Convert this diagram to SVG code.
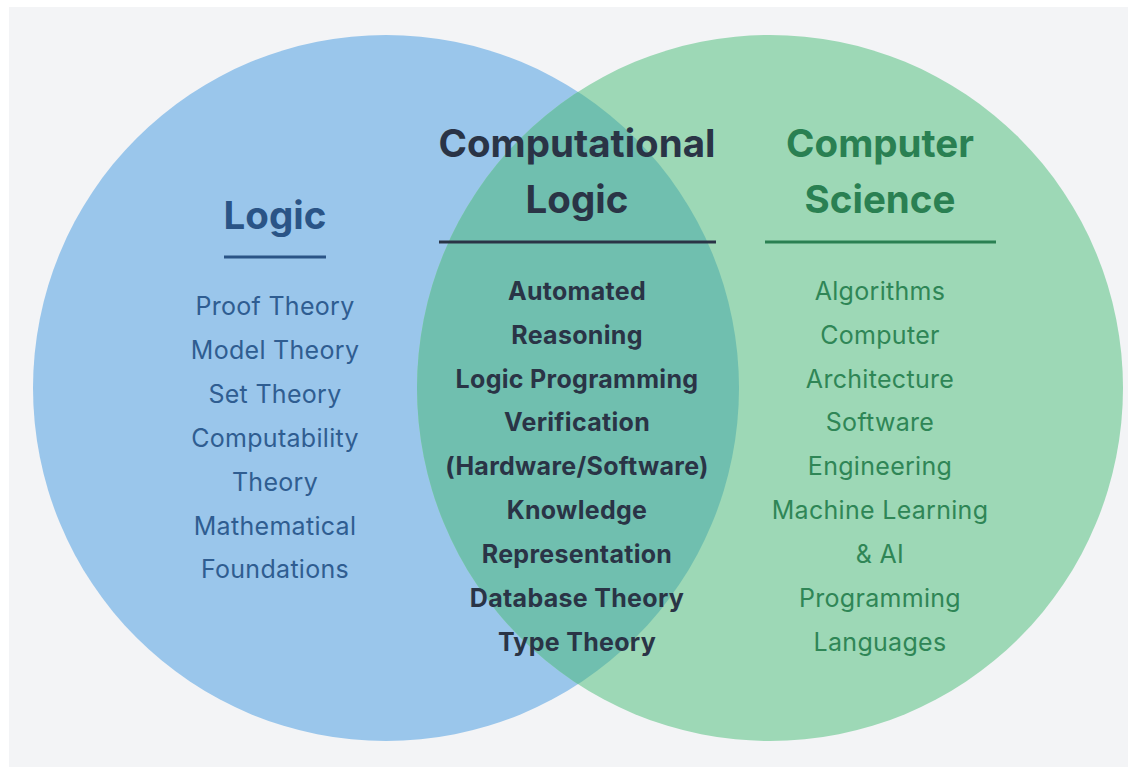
<svg xmlns="http://www.w3.org/2000/svg" width="1128" height="767" viewBox="0 0 1128 767">
<defs>
<clipPath id="clipRight"><circle cx="770" cy="388" r="353"/></clipPath>
<style>
text{font-family:Inter,"Noto Sans","Liberation Sans",sans-serif;text-anchor:middle}
.title{font-size:38.5px;font-weight:700}
.item{font-size:25px;font-weight:400;letter-spacing:0.3px}
.bold{font-weight:700}
.blue{fill:#2a5486}
.blueItem{fill:#2f5d91}
.dark{fill:#2a3446}
.green{fill:#2a8052}
.greenItem{fill:#2f8656}
</style>
</defs>
<rect x="0" y="0" width="1128" height="767" fill="#ffffff"/>
<rect x="9" y="7" width="1119" height="760" fill="#f3f4f6"/>
<g id="logic-circle">
<circle cx="386" cy="388" r="353" fill="#9ac6eb"/>
</g>
<g id="cs-circle">
<circle cx="770" cy="388" r="353" fill="#9dd8b6"/>
</g>
<g id="overlap">
<circle cx="386" cy="388" r="353" fill="#70bfaf" clip-path="url(#clipRight)"/>
</g>
<g id="logic">
<text class="title blue" x="275" y="229">Logic</text>
<line x1="224" y1="257" x2="326" y2="257" stroke="#2a5486" stroke-width="3"/>
<text class="item blueItem" x="275" y="315">Proof Theory</text>
<text class="item blueItem" x="275" y="359">Model Theory</text>
<text class="item blueItem" x="275" y="403">Set Theory</text>
<text class="item blueItem" x="275" y="447">Computability</text>
<text class="item blueItem" x="275" y="491">Theory</text>
<text class="item blueItem" x="275" y="535">Mathematical</text>
<text class="item blueItem" x="275" y="578">Foundations</text>
</g>
<g id="computational-logic">
<text class="title dark" x="577" y="157">Computational</text>
<text class="title dark" x="577" y="213">Logic</text>
<line x1="439" y1="242" x2="716" y2="242" stroke="#2a3446" stroke-width="3"/>
<text class="item bold dark" x="577" y="300">Automated</text>
<text class="item bold dark" x="577" y="344">Reasoning</text>
<text class="item bold dark" x="577" y="388">Logic Programming</text>
<text class="item bold dark" x="577" y="431">Verification</text>
<text class="item bold dark" x="577" y="475">(Hardware/Software)</text>
<text class="item bold dark" x="577" y="519">Knowledge</text>
<text class="item bold dark" x="577" y="563">Representation</text>
<text class="item bold dark" x="577" y="607">Database Theory</text>
<text class="item bold dark" x="577" y="651">Type Theory</text>
</g>
<g id="computer-science">
<text class="title green" x="880" y="157">Computer</text>
<text class="title green" x="880" y="213">Science</text>
<line x1="765" y1="242" x2="996" y2="242" stroke="#2a8052" stroke-width="3"/>
<text class="item greenItem" x="880" y="300">Algorithms</text>
<text class="item greenItem" x="880" y="344">Computer</text>
<text class="item greenItem" x="880" y="388">Architecture</text>
<text class="item greenItem" x="880" y="431">Software</text>
<text class="item greenItem" x="880" y="475">Engineering</text>
<text class="item greenItem" x="880" y="519">Machine Learning</text>
<text class="item greenItem" x="880" y="563">&amp; AI</text>
<text class="item greenItem" x="880" y="607">Programming</text>
<text class="item greenItem" x="880" y="651">Languages</text>
</g>
</svg>
